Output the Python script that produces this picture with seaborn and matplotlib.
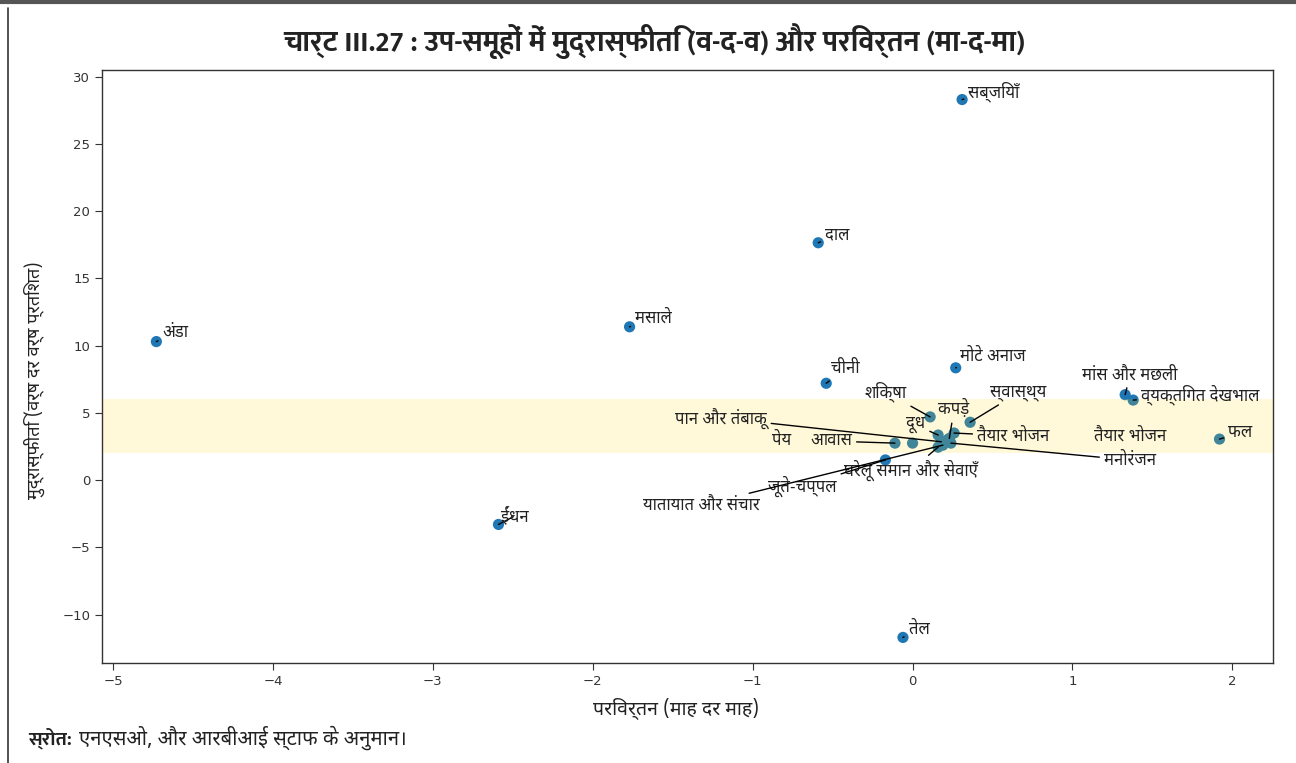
import matplotlib
matplotlib.use('Agg')
import matplotlib.pyplot as plt
from matplotlib.lines import Line2D
import seaborn as sns
import pandas as pd

# sub-group labels
labels = ['सब्जियाँ', 'दाल', 'अंडा', 'मसाले', 'चीनी', 'मोटे अनाज', 'मांस और मछली',
          'व्यक्तिगत देखभाल', 'फल', 'ईंधन', 'तेल', 'शिक्षा', 'स्वास्थ्य', 'कपड़े',
          'दूध', 'पान और तंबाकू', 'पेय', 'आवास', 'तैयार भोजन', 'तैयार भोजन',
          'मनोरंजन', 'घरेलू समान और सेवाएँ', 'जूते-चप्पल', 'यातायात और संचार']
# change, month over month
mom = [0.31, -0.59, -4.73, -1.77, -0.54, 0.27, 1.33,
       1.38, 1.92, -2.59, -0.06, 0.11, 0.36, 0.23,
       0.16, 0.18, 0.00, -0.11, 0.26, 0.22,
       0.24, 0.16, -0.17, 0.19]
# inflation, year over year (%)
yoy = [28.3, 17.65, 10.3, 11.4, 7.2, 8.35, 6.35,
       5.95, 3.05, -3.3, -11.7, 4.7, 4.3, 3.1,
       3.35, 2.85, 2.75, 2.75, 3.5, 3.0,
       2.75, 2.45, 1.5, 2.6]

# where each label sits (text centre, data units) and whether it gets a leader line
label_pos = [(0.51, 28.9), (-0.47, 18.2), (-4.61, 10.95), (-1.62, 12.0), (-0.42, 8.27),
             (0.50, 9.16), (1.36, 7.82), (1.80, 6.33), (2.05, 3.5), (-2.49, -2.68),
             (0.04, -11.1), (-0.17, 6.55), (0.66, 6.48), (0.26, 5.29), (0.02, 4.1),
             (-1.20, 4.62), (-0.82, 2.9), (-0.51, 2.9), (0.63, 3.28), (1.36, 3.28),
             (1.36, 1.49), (-0.01, 0.74), (-0.69, -0.45), (-1.32, -1.86)]
leader = [True] * len(labels)
leader[16] = False
leader[19] = False

df = pd.DataFrame({'label': labels, 'mom': mom, 'yoy': yoy})

sns.set_style('ticks')
deva = ['Noto Sans Devanagari', 'DejaVu Sans']
deva_bold = ['Mukta', 'Noto Sans Devanagari UI', 'DejaVu Sans']
plt.rcParams['font.family'] = deva

fig = plt.figure(figsize=(12.96, 7.63), dpi=100)
ax = fig.add_axes([0.0787, 0.1311, 0.9036, 0.7772])

sns.scatterplot(data=df, x='mom', y='yoy', ax=ax, color='#1f77b4', s=65,
                edgecolor='none', zorder=1)
# tolerance band drawn over the markers
ax.axhspan(2, 6, color='gold', alpha=0.15, lw=0, zorder=1.5)

for lab, (tx, ty), x, y, ld in zip(labels, label_pos, mom, yoy, leader):
    if ld:
        ax.annotate(lab, xy=(x, y), xytext=(tx, ty), ha='center', va='center',
                    fontsize=12, color='#222222', zorder=3,
                    arrowprops=dict(arrowstyle='-', color='black', lw=1,
                                    shrinkA=1, shrinkB=0))
    else:
        ax.text(tx, ty, lab, ha='center', va='center', fontsize=12,
                color='#222222', zorder=3)

ax.set_xlim(-5.07, 2.255)
ax.set_ylim(-13.6, 30.5)
ax.set_xticks(range(-5, 3))
ax.set_yticks(range(-10, 31, 5))
for t in ax.get_xticklabels() + ax.get_yticklabels():
    t.set_family('DejaVu Sans')
    t.set_fontsize(9.5)
    t.set_color('#333333')
ax.tick_params(length=5, width=0.8, color='#333333')
for sp in ax.spines.values():
    sp.set_visible(True)
    sp.set_color('#333333')
    sp.set_linewidth(1)

ax.set_xlabel('परिवर्तन (माह दर माह)', fontsize=14, color='#222222')
ax.set_ylabel('मुद्रास्फीति (वर्ष दर वर्ष प्रतिशत)', fontsize=13, color='#222222')
ax.xaxis.set_label_coords(0.49, -0.057)
ax.yaxis.set_label_coords(-0.049, 0.477)

fig.text(0.505, 0.945, 'चार्ट III.27 : उप-समूहों में मुद्रास्फीति (व-द-व) और परिवर्तन (मा-द-मा)',
         ha='center', va='center', fontsize=21, fontweight='bold', color='#222222',
         family=deva_bold)
fig.text(0.0216, 0.033, 'स्रोत:', ha='left', va='center', fontsize=14,
         fontweight='bold', color='#222222', family=deva_bold)
fig.text(0.061, 0.033, 'एनएसओ, और आरबीआई स्टाफ के अनुमान।', ha='left', va='center',
         fontsize=14.5, color='#222222')

# page frame lines
fig.add_artist(Line2D([0, 1], [0.997, 0.997], color='#555555', lw=3))
fig.add_artist(Line2D([0.0062, 0.0062], [0, 0.99], color='#333333', lw=1.2))

fig.savefig('out.png', dpi=100)
